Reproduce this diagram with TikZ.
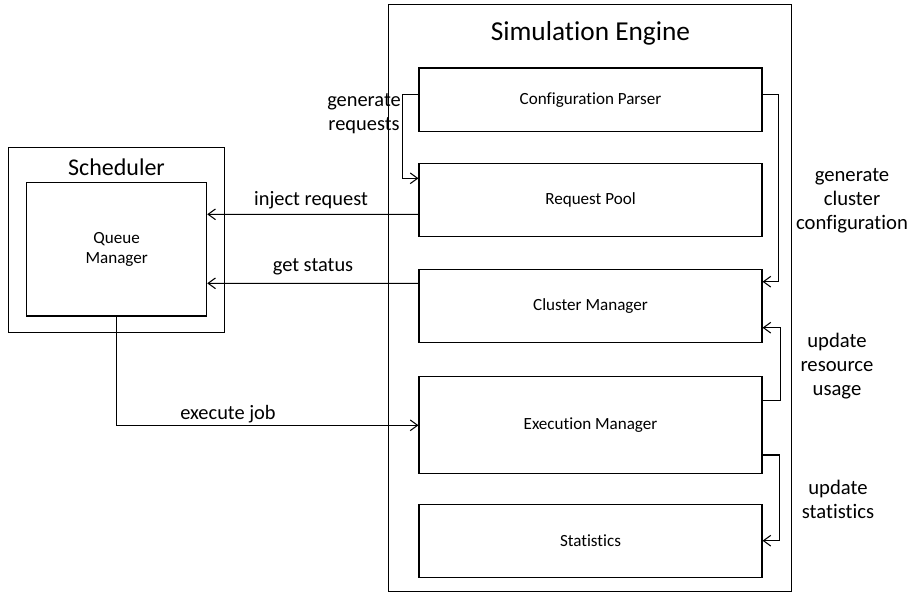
\documentclass[tikz,border=0pt]{standalone}
\usepackage{fontspec}
\setmainfont{Carlito}[Ligatures={NoCommon}]
\usetikzlibrary{arrows.meta,calc}

\tikzset{
  frame/.style={draw, line width=0.8pt, inner sep=0pt, anchor=north west},
  block/.style={draw, line width=0.8pt, inner sep=0pt, minimum width=343*0.75pt,
    font=\fontsize{12.8}{15}\selectfont, align=center},
  lbl/.style={font=\fontsize{15.3}{18}\selectfont, align=center, inner sep=0pt},
  flow/.style={line width=0.8pt, -{Straight Barb[length=5.5pt,width=8pt,line width=0.8pt]}},
}

\begin{document}
\begin{tikzpicture}[x=0.75pt,y=-0.75pt]
  \useasboundingbox (0,0) rectangle (911,592);

  % Simulation engine container and its title
  \node[frame, minimum width=402.7*0.75pt, minimum height=587*0.75pt] (engine) at (388.3,4) {};
  \node[font=\fontsize{20.5}{24}\selectfont] (enginetitle) at (590.5,33) {Simulation Engine};

  % Engine components
  \node[block, minimum height=63.7*0.75pt] (cp) at (590.5,99.85) {Configuration Parser};
  \node[block, minimum height=73.7*0.75pt] (rp) at (590.5,200) {Request Pool};
  \node[block, minimum height=73.3*0.75pt] (cm) at (590.5,305.7) {Cluster Manager};
  \node[block, minimum height=97.3*0.75pt] (em) at (590.5,425.3) {Execution Manager};
  \node[block, minimum height=73.3*0.75pt] (st) at (590.5,540.7) {Statistics};

  % Scheduler container
  \node[frame, minimum width=215.7*0.75pt, minimum height=185*0.75pt] (sched) at (8.3,147.3) {};
  \node[font=\fontsize{18}{22}\selectfont] (schedtitle) at (116.5,167) {Scheduler};
  \node[block, minimum width=180*0.75pt, minimum height=133.7*0.75pt] (qm) at (116.7,249.15) {Queue\\Manager};

  % Internal engine flows
  \draw[flow] ($(cp.west)+(0,-5.2)$) -- ++(-15.7,0) |- ($(rp.west)+(0,-21.7)$);
  \draw[flow] ($(cp.east)+(0,-4.9)$) -- ++(16.3,0) |- ($(cm.east)+(0,-24)$);
  \draw[flow] ($(em.east)+(0,-24.6)$) -- ++(18,0) |- ($(cm.east)+(0,22)$);
  \draw[flow] ($(em.east)+(0,29.7)$) -- ++(17,0) |- (st.east);

  % Flows between engine and scheduler
  \draw[flow] ($(rp.west)+(0,14.3)$) -- ($(qm.east)+(0,14.3-249.15+200)$);
  \draw[flow] ($(cm.west)+(0,-22.4)$) -- ($(qm.east)+(0,283.3-249.15)$);
  \draw[flow] (qm.south) |- (em.west);

  % Flow labels
  \node[lbl] (lgen) at (364,114) {generate\\requests};
  \node[lbl] (linj) at (311,200) {inject request};
  \node[lbl] (lget) at (313,267) {get status};
  \node[lbl] (lexe) at (228,414) {execute job};
  \node[lbl, font=\fontsize{15.5}{18}\selectfont] (lcfg) at (852,200.5) {generate\\cluster\\configuration};
  \node[lbl, font=\fontsize{15.5}{18}\selectfont] (lres) at (837,365.8) {update\\resource\\usage};
  \node[lbl, font=\fontsize{15.5}{18}\selectfont] (lsta) at (838,499.7) {update\\statistics};
\end{tikzpicture}
\end{document}
